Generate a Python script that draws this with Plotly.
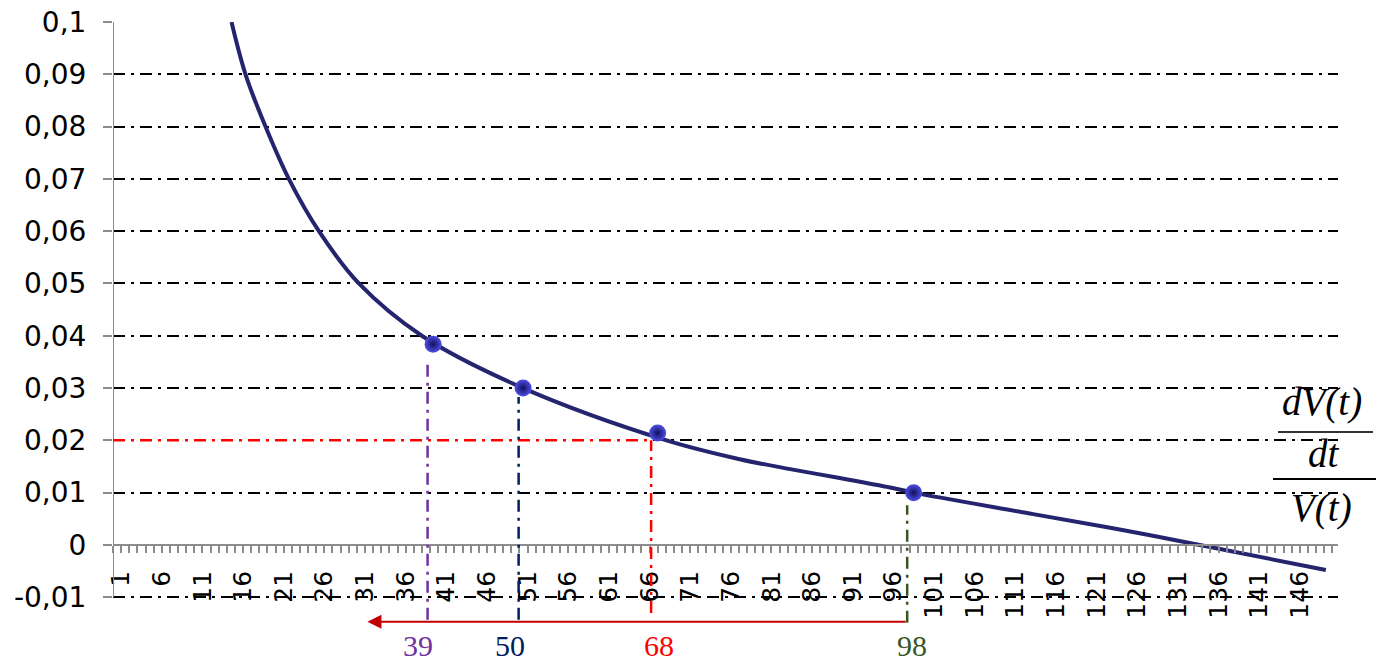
import plotly.graph_objects as go

# ---- data ----
curve_t = [14.58, 16.30, 18.76, 21.63, 25.33, 30.25, 37.99, 50.45, 68.1, 77.1, 83.3, 89.4, 95.6, 98.5, 113.2, 124.0, 133.7, 149.2]
curve_y = [0.100, 0.090, 0.080, 0.070, 0.060, 0.050, 0.040, 0.030, 0.020, 0.0164, 0.0145, 0.0128, 0.0110, 0.0100, 0.0059, 0.0029, 0.0000, -0.0048]

marker_t = [39.38, 50.45, 67.0, 98.5]
marker_y = [0.0384, 0.0300, 0.0214, 0.0100]

guide_t = [38.7, 49.9, 66.2, 97.7]
guide_top = [0.0354, 0.0283, 0.0200, 0.0076]
guide_bottom = [-0.0143, -0.0143, -0.0130, -0.0149]
guide_labels = ["39", "50", "68", "98"]
guide_colors = ["#7030A0", "#002060", "#FF0000", "#375623"]
label_shift = [-10, -9, 8, 5]

level_y = 0.02
arrow_from = 97.7
arrow_to = 31.3
arrow_y = -0.0147
label_y = -0.0192

x_ticks = list(range(1, 150, 5))
y_ticks = [-0.01, 0, 0.01, 0.02, 0.03, 0.04, 0.05, 0.06, 0.07, 0.08, 0.09, 0.1]
y_ticktext = ["-0,01", "0", "0,01", "0,02", "0,03", "0,04", "0,05", "0,06", "0,07", "0,08", "0,09", "0,1"]

X_RANGE = [0, 150.7]
Y_RANGE = [-0.022, 0.1]
GRAY = "#8c8c8c"
DASHDOT = "12px,6px,3px,6px"

fig = go.Figure()

fig.add_trace(go.Scatter(
    x=curve_t, y=curve_y, mode="lines",
    line=dict(color="#24246F", width=4, shape="spline", smoothing=1.0),
    hoverinfo="skip", showlegend=False))

fig.add_trace(go.Scatter(
    x=marker_t, y=marker_y, mode="markers",
    marker=dict(size=17, color="#4f4fe6",
                gradient=dict(type="radial", color="#10105c"),
                line=dict(width=0)),
    showlegend=False))

shapes = []
# y axis line
shapes.append(dict(type="line", xref="x", yref="y", x0=X_RANGE[0], x1=X_RANGE[0],
                   y0=y_ticks[0], y1=y_ticks[-1], line=dict(color=GRAY, width=2)))
# horizontal red level line
shapes.append(dict(type="line", xref="x", yref="y", x0=X_RANGE[0], x1=guide_t[2],
                   y0=level_y, y1=level_y, line=dict(color="#FF0000", width=2.5, dash=DASHDOT)))
# vertical guide lines
for t, top, bot, col in zip(guide_t, guide_top, guide_bottom, guide_colors):
    shapes.append(dict(type="line", xref="x", yref="y", x0=t, x1=t, y0=bot, y1=top,
                       line=dict(color=col, width=2.5, dash=DASHDOT)))

# fraction bars at right
L, R, T, B = 113, 38, 22, 6
plot_w = 1376 - L - R
plot_h = 666 - T - B
def px_to_paper_x(px):
    return (px - L) / plot_w
def px_to_y(py):
    return Y_RANGE[1] - (py - T) / plot_h * (Y_RANGE[1] - Y_RANGE[0])

shapes.append(dict(type="line", xref="paper", yref="y", x0=px_to_paper_x(1278), x1=px_to_paper_x(1373),
                   y0=px_to_y(432), y1=px_to_y(432), line=dict(color="#333333", width=1.8)))
shapes.append(dict(type="line", xref="paper", yref="y", x0=px_to_paper_x(1273), x1=px_to_paper_x(1376),
                   y0=px_to_y(479), y1=px_to_y(479), line=dict(color="#000000", width=1.8)))

annotations = []
# arrow
annotations.append(dict(x=arrow_to, y=arrow_y, ax=arrow_from, ay=arrow_y, xref="x", yref="y",
                        axref="x", ayref="y", showarrow=True, arrowhead=2, arrowsize=1.4,
                        arrowwidth=2, arrowcolor="#C00000", text=""))
for t, lab, col, sh in zip(guide_t, guide_labels, guide_colors, label_shift):
    annotations.append(dict(x=t, y=label_y, xref="x", yref="y", text=lab, showarrow=False,
                            xanchor="center", yanchor="middle", borderpad=0,
                            xshift=sh, font=dict(family="Liberation Serif", size=30, color=col)))

frac_font = dict(family="Liberation Serif", size=39, color="#000000")
for txt, px, py in [("<i>dV(t)</i>", 1322, 402), ("<i>dt</i>", 1324, 453), ("<i>V(t)</i>", 1321, 508)]:
    annotations.append(dict(x=px_to_paper_x(px), y=px_to_y(py), xref="paper", yref="y",
                            xanchor="center", yanchor="middle",
                            text=txt, showarrow=False, font=frac_font))

x_pos = (0 - Y_RANGE[0]) / (Y_RANGE[1] - Y_RANGE[0])

fig.update_layout(
    width=1376, height=666,
    margin=dict(l=L, r=R, t=T, b=B, autoexpand=False),
    paper_bgcolor="white", plot_bgcolor="white",
    shapes=shapes, annotations=annotations,
    xaxis=dict(
        range=X_RANGE, anchor="free", position=x_pos, automargin=False,
        tickmode="array", tickvals=x_ticks, ticktext=[str(v) for v in x_ticks],
        tickangle=-90, ticks="outside", ticklen=7, tickwidth=1.5, tickcolor=GRAY,
        ticklabelstandoff=8,
        minor=dict(dtick=1, tick0=0, ticks="outside", ticklen=7, tickwidth=1.5, tickcolor=GRAY, showgrid=False),
        showline=True, linecolor=GRAY, linewidth=2,
        showgrid=False, zeroline=False,
        tickfont=dict(family="DejaVu Sans", size=25, color="#000000"),
    ),
    yaxis=dict(
        range=Y_RANGE, automargin=False,
        tickmode="array", tickvals=y_ticks, ticktext=y_ticktext,
        ticks="outside", ticklen=9, tickwidth=1.5, tickcolor=GRAY,
        ticklabelstandoff=11,
        showline=False, zeroline=False,
        showgrid=True, gridcolor="#000000", gridwidth=2, griddash=DASHDOT,
        tickfont=dict(family="DejaVu Sans", size=28, color="#000000"),
    ),
)

fig.write_html("out.html", config={"displayModeBar": False},
               post_script="document.body.style.margin='0';")
